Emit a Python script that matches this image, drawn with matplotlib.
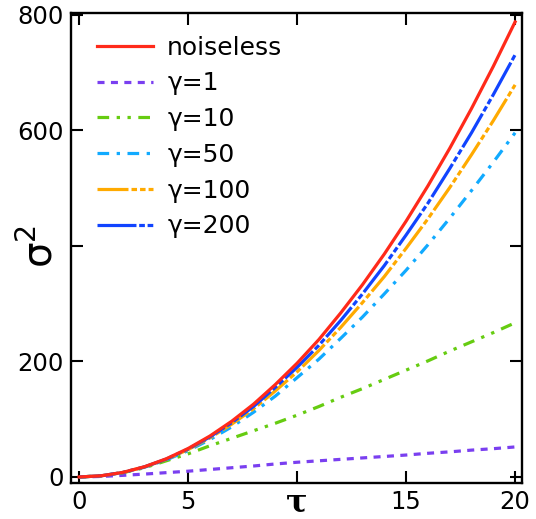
import matplotlib
matplotlib.use('Agg')
import matplotlib.pyplot as plt
import matplotlib.transforms as mtransforms

tau = [0, 1, 2, 3, 4, 5, 6, 7, 8, 9, 10, 11, 12, 13, 14, 15, 16, 17, 18, 19, 20]

noiseless = [0, 1.97, 7.9, 17.7, 31.5, 49.3, 70.9, 96.5, 126, 160, 197,
             238, 284, 333, 386, 443, 504, 569, 638, 711, 788]
g1 = [0, 0.9, 2.8, 5, 7.5, 10, 13, 16, 19, 22.5, 25.5,
      28, 30.5, 33, 35.5, 38, 41, 43.5, 46.5, 49, 52]
g10 = [0, 1.9, 7.3, 16, 28, 40, 54, 67, 80, 93, 107,
       122, 138, 153, 169, 185, 201, 218, 234, 250, 267]
g50 = [0, 1.94, 7.6, 16.9, 29.6, 45.6, 64.7, 86.8, 112, 140, 172,
       204, 240, 277, 317, 358, 402, 448, 496, 545, 596]
g100 = [0, 1.95, 7.8, 17.3, 30.5, 47.4, 67.6, 91.4, 118, 149, 182,
        219, 259, 302, 347, 396, 447, 501, 558, 617, 679]
g200 = [0, 1.96, 7.8, 17.5, 31.0, 48.4, 69.3, 93.9, 122, 155, 190,
        228, 271, 317, 366, 419, 474, 534, 596, 662, 731]

x_ticks = [0, 5, 10, 15, 20]
x_ticklabels = ['0', '5', '', '15', '20']
y_ticks = [0, 200, 400, 600, 800]
y_ticklabels = ['0', '200', '', '600', '800']

fs = 17.5
lw = 2.3

fig = plt.figure(figsize=(5.36, 5.19), dpi=100)
ax = fig.add_axes([0.1325, 0.0694, 0.8415, 0.9056])

ax.plot(tau, noiseless, color='#ff2a1a', lw=lw, label='noiseless', zorder=5)
ax.plot(tau, g1, color='#7a3ff0', lw=lw, dashes=(2.2, 2.0), label='γ=1')
ax.plot(tau, g10, color='#66cc11', lw=lw,
        dashes=(3.65, 2.35, 1.04, 2.35, 1.04, 2.35), label='γ=10')
ax.plot(tau, g50, color='#11aaff', lw=lw,
        dashes=(3.65, 2.35, 1.04, 2.35), label='γ=50')
ax.plot(tau, g100, color='#ffaa00', lw=lw,
        dashes=(9.7, 0.95, 1.72, 0.95, 1.72, 0.95), label='γ=100')
ax.plot(tau, g200, color='#1144ff', lw=lw,
        dashes=(12.2, 0.85, 1.78, 0.85, 1.78, 0.85), label='γ=200')

ax.set_xlim(-0.37, 20.32)
ax.set_ylim(-10.4, 803.5)
ax.set_xticks(x_ticks)
ax.set_xticklabels(x_ticklabels)
ax.set_yticks(y_ticks)
ax.set_yticklabels(y_ticklabels)
ax.tick_params(direction='in', length=8.4, width=1.5, labelsize=fs,
               top=True, right=True, pad=5)
for s in ax.spines.values():
    s.set_linewidth(1.7)

# axis labels sit where the '10' and '400' tick labels would be
tx = mtransforms.blended_transform_factory(ax.transData, ax.transAxes)
ax.text(10, -0.008, 'τ', transform=tx, ha='center', va='top',
        fontsize=23, family='DejaVu Serif', weight='bold')
ty = mtransforms.blended_transform_factory(ax.transAxes, ax.transData)
ax.text(-0.022, 400, r'$\mathrm{\sigma}^{2}$', transform=ty, ha='right',
        va='center', fontsize=29, rotation=90)

ax.legend(loc='upper left', bbox_to_anchor=(0.058, 0.952), frameon=False,
          fontsize=18, handlelength=2.24, handletextpad=0.56,
          labelspacing=0.47, borderpad=0, borderaxespad=0)

fig.savefig('out.png', dpi=100)
